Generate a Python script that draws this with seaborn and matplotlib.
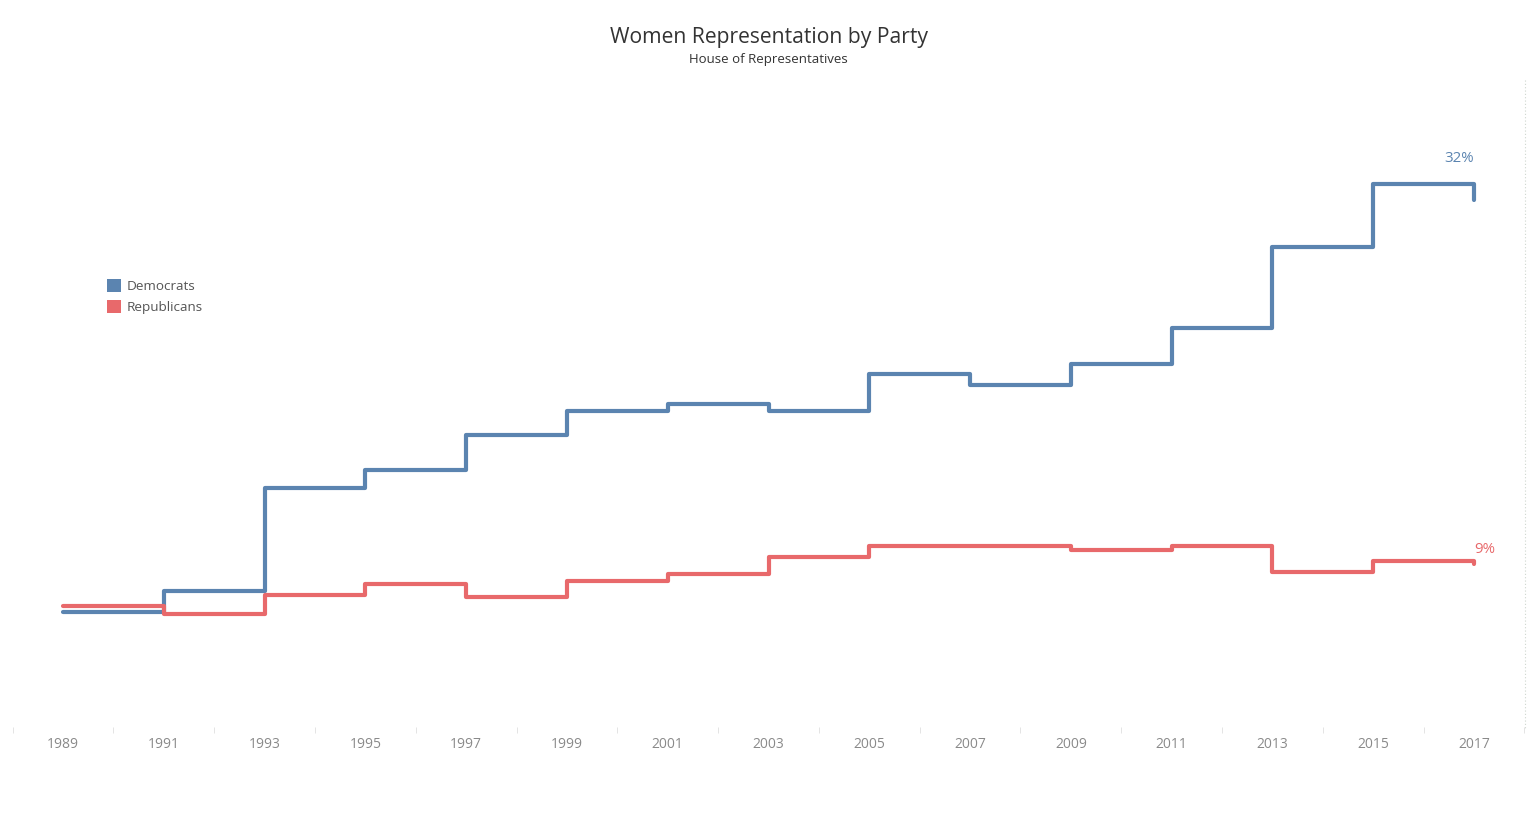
import matplotlib
matplotlib.use("Agg")
import matplotlib.pyplot as plt
from matplotlib.patches import Patch
from matplotlib.lines import Line2D
import seaborn as sns
import pandas as pd

years = [1989, 1991, 1993, 1995, 1997, 1999, 2001, 2003, 2005, 2007, 2009, 2011, 2013, 2015, 2017]
democrats = [5.9, 7.2, 13.75, 14.9, 17.1, 18.6, 19.1, 18.6, 21.0, 20.3, 21.6, 23.9, 29.0, 33.0, 32.0]
republicans = [6.3, 5.8, 7.0, 7.7, 6.85, 7.85, 8.3, 9.4, 10.1, 10.1, 9.85, 10.1, 8.45, 9.1, 8.95]
tick_years = list(range(1989, 2018, 2))
minor_years = list(range(1988, 2019, 2))

colors = {"Democrats": "#5b84b0", "Republicans": "#e8696b"}

df = pd.concat([
    pd.DataFrame({"Year": years, "Share": democrats, "Party": "Democrats"}),
    pd.DataFrame({"Year": years, "Share": republicans, "Party": "Republicans"}),
])

sns.set_theme(style="white")
plt.rcParams["font.family"] = ["Open Sans", "DejaVu Sans"]

W, H = 1537, 821
fig = plt.figure(figsize=(W / 100, H / 100), dpi=100)
ax = fig.add_axes([12.6 / W, 1 - 730 / H, (1524.4 - 12.6) / W, 650 / H])

sns.lineplot(data=df, x="Year", y="Share", hue="Party", palette=colors,
             drawstyle="steps-post", linewidth=3.0, legend=False, ax=ax,
             solid_capstyle="round", solid_joinstyle="round")

ax.set_xlim(1988, 2018)
ax.set_ylim(-1.58, 39.6)
for s in ax.spines.values():
    s.set_visible(False)
ax.set_yticks([])
ax.set_xticks(tick_years)
ax.set_xticklabels([str(y) for y in tick_years], color="#8a8a8a", fontsize=10)
ax.set_xticks(minor_years, minor=True)
ax.tick_params(axis="x", which="major", bottom=True, length=0, pad=5)
ax.tick_params(axis="x", which="minor", bottom=True, length=5, width=0.7,
               color="#e4e4e4", direction="inout")
ax.set_xlabel("")
ax.set_ylabel("")

# end labels
ax.annotate("32%", xy=(years[-1], democrats[-1]), xytext=(0, 30), textcoords="offset points",
            ha="right", va="center", color=colors["Democrats"], fontsize=10.8)
ax.annotate("9%", xy=(years[-1], republicans[-1]), xytext=(0, 10), textcoords="offset points",
            ha="left", va="center", color=colors["Republicans"], fontsize=10.8)

# right dotted border
fig.add_artist(Line2D([1525 / W, 1525 / W], [1 - 80 / H, 1 - 730 / H], transform=fig.transFigure,
                      color="#cfd6cf", linestyle=(0, (1, 2)), linewidth=0.8))

fig.text(0.5, 1 - 38 / H, "Women Representation by Party", ha="center", va="center",
         fontsize=15.2, color="#333333")
fig.text(0.5, 1 - 60 / H, "House of Representatives", ha="center", va="center",
         fontsize=9.5, color="#333333")

handles = [Patch(facecolor=colors[k], edgecolor="none", label=k) for k in ["Democrats", "Republicans"]]
leg = fig.legend(handles=handles, loc="upper left", bbox_to_anchor=(104 / W, 1 - 276 / H),
                 frameon=False, handlelength=1.05, handleheight=1.15, handletextpad=0.4,
                 labelspacing=0.5, fontsize=9.7, borderaxespad=0, borderpad=0.2)
for t in leg.get_texts():
    t.set_color("#555555")

fig.savefig("out.png", dpi=100)
